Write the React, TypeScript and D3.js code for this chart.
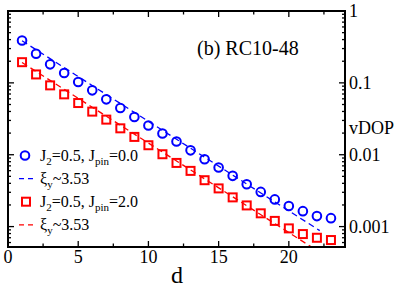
import * as React from 'react'
import {useRef, useEffect} from 'react'
import * as d3 from 'd3'

// distance d
const distances = [1, 2, 3, 4, 5, 6, 7, 8, 9, 10, 11, 12, 13, 14, 15, 16, 17, 18, 19, 20, 21, 22, 23]
// J2=0.5, Jpin=0.0 (blue circles)
const vdopPin0 = [0.389, 0.254, 0.181, 0.137, 0.103, 0.0787, 0.059, 0.0447, 0.0335, 0.0255, 0.0197, 0.0153,
    0.0115, 0.00866, 0.00664, 0.00508, 0.00389, 0.00304, 0.00239, 0.00193, 0.00164, 0.0014, 0.00131]
// J2=0.5, Jpin=2.0 (red squares)
const vdopPin2 = [0.194, 0.131, 0.0923, 0.0692, 0.0524, 0.0398, 0.0308, 0.0233, 0.0177, 0.01355, 0.01016, 0.00769,
    0.00596, 0.00442, 0.0034, 0.00255, 0.00197, 0.00153, 0.0012, 0.000944, 0.000787, 0.000699, 0.00065]
// fitted exponential decays (end points), xi_y ~ 3.53
const fitPin0 = [{d: 1, v: 0.385}, {d: 22.2, v: 0.00088}]
const fitPin2 = [{d: 1, v: 0.192}, {d: 22.2, v: 0.00044}]

const xMajor = [0, 5, 10, 15, 20]
const xMinor = [2.5, 7.5, 12.5, 17.5, 22.5]
const yMajor = [1, 0.1, 0.01, 0.001]
const yLabels = ['1', '0.1', '0.01', '0.001']

const W = 411, H = 287
const left = 8, right = 345, top = 11, bottom = 247
const FONT = "'Liberation Serif', 'Times New Roman', serif"

const App = () => {
    const ref = useRef(null)

    useEffect(() => {
        const svg = d3.select(ref.current)
        svg.selectAll('*').remove()

        const x = d3.scaleLinear().domain([0, 24]).range([left, right])
        const y = d3.scaleLog().domain([0.00052, 1]).range([bottom, top])

        svg.append('defs').append('clipPath').attr('id', 'plotclip')
            .append('rect').attr('x', left).attr('y', top).attr('width', right - left).attr('height', bottom - top)

        const g = svg.append('g').attr('clip-path', 'url(#plotclip)')

        const line = d3.line().x(d => x(d.d)).y(d => y(d.v))
        g.append('path').datum(fitPin0).attr('d', line)
            .attr('fill', 'none').attr('stroke', '#0000ff').attr('stroke-width', 1.3).attr('stroke-dasharray', '6,4')
        g.append('path').datum(fitPin2).attr('d', line)
            .attr('fill', 'none').attr('stroke', '#ff0000').attr('stroke-width', 1.3).attr('stroke-dasharray', '6,4')

        g.selectAll('circle.pin0')
            .data(vdopPin0)
            .enter()
            .append('circle')
            .attr('cx', (d, i) => x(distances[i]))
            .attr('cy', d => y(d))
            .attr('r', 4.3)
            .attr('fill', 'none')
            .attr('stroke', '#0000ff')
            .attr('stroke-width', 2)

        g.selectAll('rect.pin2')
            .data(vdopPin2)
            .enter()
            .append('rect')
            .attr('x', (d, i) => x(distances[i]) - 4)
            .attr('y', d => y(d) - 4)
            .attr('width', 8)
            .attr('height', 8)
            .attr('fill', 'none')
            .attr('stroke', '#ff0000')
            .attr('stroke-width', 2)

        // frame
        svg.append('rect').attr('x', left).attr('y', top).attr('width', right - left).attr('height', bottom - top)
            .attr('fill', 'none').attr('stroke', '#000').attr('stroke-width', 2)

        const ticks = svg.append('g').attr('stroke', '#000').attr('stroke-width', 1.3)
        xMajor.concat(xMinor).forEach(v => {
            const len = xMajor.includes(v) ? 6 : 3.5
            ticks.append('line').attr('x1', x(v)).attr('x2', x(v)).attr('y1', bottom).attr('y2', bottom - len)
            ticks.append('line').attr('x1', x(v)).attr('x2', x(v)).attr('y1', top).attr('y2', top + len)
        })
        const minorY = []
        yMajor.forEach(m => { for (let k = 2; k <= 9; k++) minorY.push(m * k / 10) })
        minorY.filter(v => v >= 0.00052).forEach(v => {
            ticks.append('line').attr('x1', left).attr('x2', left + 3).attr('y1', y(v)).attr('y2', y(v))
            ticks.append('line').attr('x1', right).attr('x2', right - 3).attr('y1', y(v)).attr('y2', y(v))
        })
        yMajor.forEach(v => {
            ticks.append('line').attr('x1', left).attr('x2', left + 6).attr('y1', y(v)).attr('y2', y(v))
            ticks.append('line').attr('x1', right).attr('x2', right - 6).attr('y1', y(v)).attr('y2', y(v))
        })

        const txt = svg.append('g').style('font-family', FONT).attr('fill', '#000')
        txt.selectAll('text.xt')
            .data(xMajor)
            .enter()
            .append('text')
            .attr('x', d => x(d))
            .attr('y', 263)
            .attr('text-anchor', 'middle')
            .style('font-size', '18px')
            .text(d => d)
        txt.selectAll('text.yt')
            .data(yMajor)
            .enter()
            .append('text')
            .attr('x', right + 4)
            .attr('y', d => y(d))
            .attr('dy', '0.35em')
            .style('font-size', '18px')
            .text((d, i) => yLabels[i])

        txt.append('text').attr('x', 177).attr('y', 283).attr('text-anchor', 'middle')
            .style('font-size', '24px').text('d')
        txt.append('text').attr('x', right + 4).attr('y', 134)
            .style('font-size', '18px').text('vDOP')
        txt.append('text').attr('x', 197).attr('y', 55)
            .style('font-size', '20px').text('(b) RC10-48')

        // legend
        const rows = [155.5, 178.6, 201.7, 224.8]
        svg.append('circle').attr('cx', 25).attr('cy', rows[0]).attr('r', 4.3)
            .attr('fill', 'none').attr('stroke', '#0000ff').attr('stroke-width', 2)
        svg.append('line').attr('x1', 19).attr('x2', 33).attr('y1', rows[1]).attr('y2', rows[1])
            .attr('stroke', '#0000ff').attr('stroke-width', 1.3).attr('stroke-dasharray', '5,4')
        svg.append('rect').attr('x', 22).attr('y', rows[2] - 4).attr('width', 8).attr('height', 8)
            .attr('fill', 'none').attr('stroke', '#ff0000').attr('stroke-width', 2)
        svg.append('line').attr('x1', 19).attr('x2', 33).attr('y1', rows[3]).attr('y2', rows[3])
            .attr('stroke', '#ff0000').attr('stroke-width', 1.3).attr('stroke-dasharray', '5,4')

        const legendText = (row, pin) => {
            const t = txt.append('text').attr('x', 40).attr('y', row + 5).style('font-size', '16px')
            t.append('tspan').text('J')
            t.append('tspan').attr('dy', 4).style('font-size', '11px').text('2')
            t.append('tspan').attr('dy', -4).text('=0.5, J')
            t.append('tspan').attr('dy', 4).style('font-size', '11px').text('pin')
            t.append('tspan').attr('dy', -4).text('=' + pin)
        }
        const xiText = (row) => {
            const t = txt.append('text').attr('x', 40).attr('y', row + 5).style('font-size', '16px')
            t.append('tspan').text('ξ')
            t.append('tspan').attr('dy', 4).style('font-size', '11px').text('y')
            t.append('tspan').attr('dy', -4).text('~3.53')
        }
        legendText(rows[0], '0.0')
        xiText(rows[1])
        legendText(rows[2], '2.0')
        xiText(rows[3])
    }, [])

    return (
        <svg ref={ref} width={W} height={H}
             style={{position: 'absolute', left: 0, top: 0, background: '#fff'}}></svg>
    )
}

export default App
